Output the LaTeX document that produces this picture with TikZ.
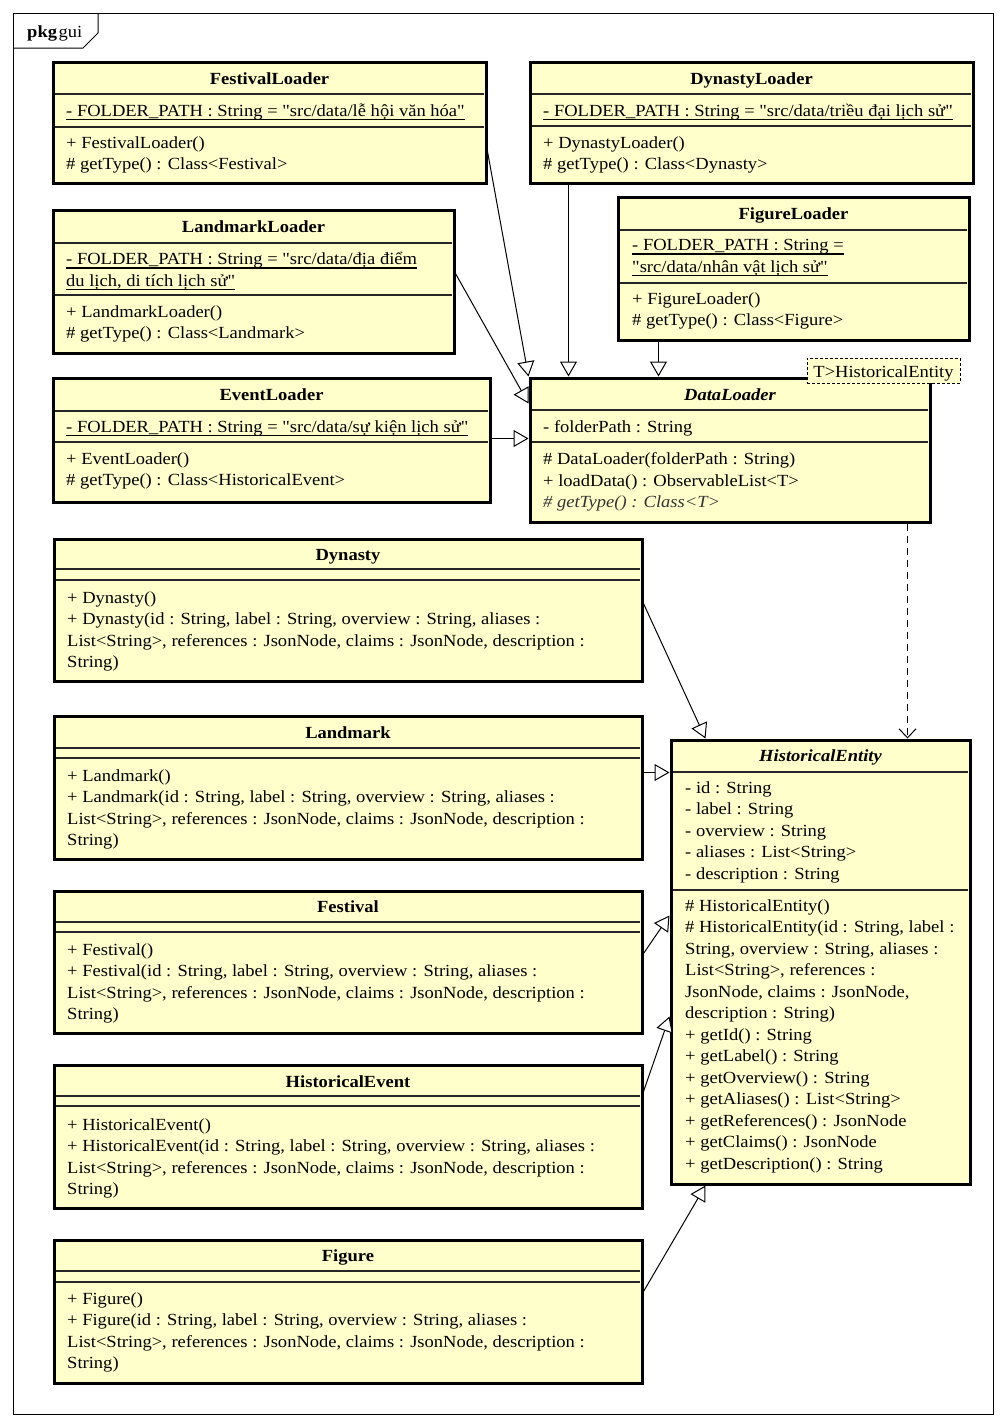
\documentclass[tikz,border=0pt]{standalone}
\usepackage{fontspec}
\setmainfont{Liberation Serif}[FakeStretch=1.09, Ligatures=TeXOff]
\usetikzlibrary{arrows.meta}
\definecolor{clsfill}{RGB}{255,255,204}

% straight double quote
\newcommand\dq{\char34\relax}
% underlined text with a rule a little below the baseline
\newsavebox\ulbox
\newcommand\ulined[1]{\sbox\ulbox{#1}\rlap{\rule[-3.6pt]{\wd\ulbox}{1.1pt}}\usebox\ulbox}

% a class frame given left, top, right, bottom
\newcommand\umlbox[5]{%
  \node[cls, minimum width={#4-#2}, minimum height={#5-#3}] (#1) at ({(#2+#4)/2},{(#3+#5)/2}) {};}

\begin{document}
\begin{tikzpicture}[x=1pt,y=-1pt,
  cls/.style={draw=black, line width=3pt, fill=clsfill, inner sep=0pt},
  sep/.style={draw=black!85, line width=1.3pt},
  title/.style={font=\fontsize{17}{21.5}\selectfont\bfseries, inner sep=0pt, anchor=base},
  abstitle/.style={title, font=\fontsize{17}{21.5}\selectfont\bfseries\itshape},
  body/.style={font=\fontsize{17}{21.5}\selectfont, align=left, inner sep=0pt,
    anchor=north west, yshift=15.05pt, execute at begin node=\strut},
  multi/.style={body, yshift=-3.5pt},
  gen/.style={draw=black, line width=1pt, -{Triangle[fill=white, length=15pt, width=17pt]}},
  dep/.style={draw=black, line width=1pt, dash pattern=on 7pt off 5pt,
    -{Straight Barb[length=9pt, width=17pt]}},
]
\useasboundingbox (0,0) rectangle (1006,1428);
\fill[white] (0,0) rectangle (1006,1428);

% package frame
\draw[line width=1pt] (13,13) rectangle (993,1414);
\draw[line width=1pt] (13,48) -- (83,48) -- (98,33) -- (98,13);
\node[anchor=base west, inner sep=0pt, font=\fontsize{17}{21.5}\selectfont] (pkg) at (27,37) {\textbf{pkg}\hspace{1.5pt}gui};

% FestivalLoader
\umlbox{fl}{53}{62}{486}{183}
\draw[sep] (55,94) -- (484,94) (55,127) -- (484,127);
\node[title] (fl-n) at (269.5,84) {FestivalLoader};
\node[body] (fl-a) at (66,116) {\ulined{- FOLDER\_PATH : String = \dq src/data/lễ hội văn hóa\dq}};
\node[multi] (fl-o) at (66,148) {+ FestivalLoader()\\\# getType() : Class<Festival>};

% DynastyLoader
\umlbox{dyl}{530}{62}{973}{183}
\draw[sep] (532,94) -- (971,94) (532,126) -- (971,126);
\node[title] (dyl-n) at (751.5,84) {DynastyLoader};
\node[body] (dyl-a) at (543,116) {\ulined{- FOLDER\_PATH : String = \dq src/data/triều đại lịch sử\dq}};
\node[multi] (dyl-o) at (543,148) {+ DynastyLoader()\\\# getType() : Class<Dynasty>};

% FigureLoader
\umlbox{fgl}{618}{197}{969}{340}
\draw[sep] (620,230) -- (967,230) (620,283) -- (967,283);
\node[title] (fgl-n) at (793.5,219) {FigureLoader};
\node[multi] (fgl-a) at (632,251) {\ulined{- FOLDER\_PATH : String =}\\\ulined{\dq src/data/nhân vật lịch sử\dq}};
\node[multi] (fgl-o) at (632,304) {+ FigureLoader()\\\# getType() : Class<Figure>};

% LandmarkLoader
\umlbox{ll}{53}{210}{454}{353}
\draw[sep] (55,243) -- (452,243) (55,295) -- (452,295);
\node[title] (ll-n) at (253.5,232) {LandmarkLoader};
\node[multi] (ll-a) at (66,264) {\ulined{- FOLDER\_PATH : String = \dq src/data/địa điểm}\\\ulined{du lịch, di tích lịch sử\dq}};
\node[multi] (ll-o) at (66,317) {+ LandmarkLoader()\\\# getType() : Class<Landmark>};

% EventLoader
\umlbox{el}{53}{378}{490}{502}
\draw[sep] (55,411) -- (488,411) (55,442) -- (488,442);
\node[title] (el-n) at (271.5,400) {EventLoader};
\node[body] (el-a) at (66,432) {\ulined{- FOLDER\_PATH : String = \dq src/data/sự kiện lịch sử\dq}};
\node[multi] (el-o) at (66,464) {+ EventLoader()\\\# getType() : Class<HistoricalEvent>};

% DataLoader
\umlbox{dl}{530}{378}{930}{522}
\draw[sep] (532,410) -- (928,410) (532,442) -- (928,442);
\node[abstitle] (dl-n) at (730,400) {DataLoader};
\node[body] (dl-a) at (543,432) {- folderPath : String};
\node[multi] (dl-o) at (543,464) {\# DataLoader(folderPath : String)\\+ loadData() : ObservableList<T>\\{\itshape\color{black!80}\# getType() : Class<T>}};
\node[draw=black, line width=0.9pt, dash pattern=on 3pt off 2pt, fill=clsfill,
  minimum width=153, minimum height=25, inner sep=0pt, text height=15pt, text depth=2pt,
  font=\fontsize{17}{21.5}\selectfont] (dl-t) at (883.5,370.5) {T>HistoricalEntity};

% Dynasty
\umlbox{dy}{54}{539}{642}{681}
\draw[sep] (56,569) -- (640,569) (56,580) -- (640,580);
\node[title] (dy-n) at (348,560) {Dynasty};
\node[multi] (dy-o) at (67,603) {+ Dynasty()\\+ Dynasty(id : String, label : String, overview : String, aliases :\\List<String>, references : JsonNode, claims : JsonNode, description :\\String)};

% Landmark
\umlbox{lm}{54}{716}{642}{859}
\draw[sep] (56,748) -- (640,748) (56,758) -- (640,758);
\node[title] (lm-n) at (348,738) {Landmark};
\node[multi] (lm-o) at (67,781) {+ Landmark()\\+ Landmark(id : String, label : String, overview : String, aliases :\\List<String>, references : JsonNode, claims : JsonNode, description :\\String)};

% Festival
\umlbox{fe}{54}{891}{642}{1033}
\draw[sep] (56,922) -- (640,922) (56,932) -- (640,932);
\node[title] (fe-n) at (348,912) {Festival};
\node[multi] (fe-o) at (67,955) {+ Festival()\\+ Festival(id : String, label : String, overview : String, aliases :\\List<String>, references : JsonNode, claims : JsonNode, description :\\String)};

% HistoricalEvent
\umlbox{ev}{54}{1065}{642}{1208}
\draw[sep] (56,1096) -- (640,1096) (56,1106) -- (640,1106);
\node[title] (ev-n) at (348,1087) {HistoricalEvent};
\node[multi] (ev-o) at (67,1130) {+ HistoricalEvent()\\+ HistoricalEvent(id : String, label : String, overview : String, aliases :\\List<String>, references : JsonNode, claims : JsonNode, description :\\String)};

% Figure
\umlbox{fg}{54}{1240}{642}{1383}
\draw[sep] (56,1271) -- (640,1271) (56,1282) -- (640,1282);
\node[title] (fg-n) at (348,1261) {Figure};
\node[multi] (fg-o) at (67,1304) {+ Figure()\\+ Figure(id : String, label : String, overview : String, aliases :\\List<String>, references : JsonNode, claims : JsonNode, description :\\String)};

% HistoricalEntity
\umlbox{he}{671}{740}{970}{1184}
\draw[sep] (673,772) -- (968,772) (673,890) -- (968,890);
\node[abstitle] (he-n) at (820.5,761) {HistoricalEntity};
\node[multi] (he-a) at (685,793) {- id : String\\- label : String\\- overview : String\\- aliases : List<String>\\- description : String};
\node[multi] (he-o) at (685,911) {\# HistoricalEntity()\\\# HistoricalEntity(id : String, label :\\String, overview : String, aliases :\\List<String>, references :\\JsonNode, claims : JsonNode,\\description : String)\\+ getId() : String\\+ getLabel() : String\\+ getOverview() : String\\+ getAliases() : List<String>\\+ getReferences() : JsonNode\\+ getClaims() : JsonNode\\+ getDescription() : String};

% generalizations towards DataLoader
\draw[gen] ([yshift=-91pt]fl.north east) -- (dl.north west);
\draw[gen] ([yshift=-65pt]ll.north east) -- ([yshift=-27pt]dl.north west);
\draw[gen] ([xshift=40pt]dyl.south west) -- ([xshift=40pt]dl.north west);
\draw[gen] ([xshift=42pt]fgl.south west) -- ([xshift=130pt]dl.north west);
\draw[gen] ([yshift=-62pt]el.north east) -- ([yshift=-62pt]dl.north west);

% dependency of DataLoader on HistoricalEntity
\draw[dep] ([xshift=379pt]dl.south west) -- ([xshift=238pt]he.north west);

% generalizations towards HistoricalEntity
\draw[gen] ([yshift=-66pt]dy.north east) -- ([xshift=36pt]he.north west);
\draw[gen] ([yshift=-58pt]lm.north east) -- ([yshift=-34pt]he.north west);
\draw[gen] ([yshift=-64pt]fe.north east) -- ([yshift=-177pt]he.north west);
\draw[gen] ([yshift=-28pt]ev.north east) -- ([yshift=-278pt]he.north west);
\draw[gen] ([yshift=-53pt]fg.north east) -- ([xshift=36pt]he.south west);
\end{tikzpicture}
\end{document}
